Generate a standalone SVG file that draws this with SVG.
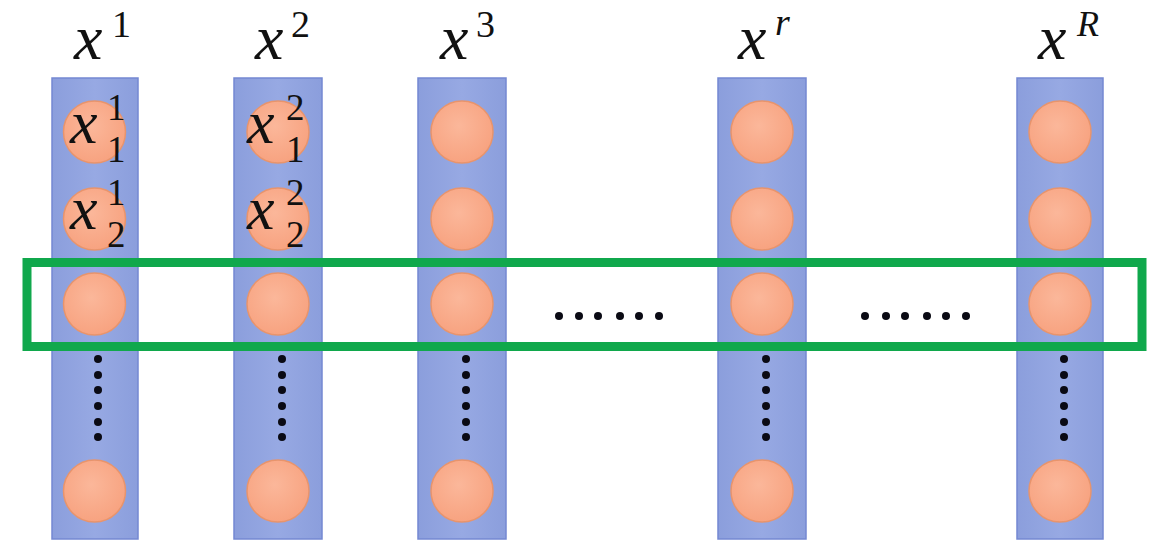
<svg xmlns="http://www.w3.org/2000/svg" width="1161" height="547" viewBox="0 0 1161 547">
<defs>
<linearGradient id="colg" x1="0" y1="0" x2="1" y2="0">
<stop offset="0" stop-color="#8B9EDC"/>
<stop offset="0.5" stop-color="#97A9E3"/>
<stop offset="1" stop-color="#8B9EDC"/>
</linearGradient>
<radialGradient id="circg" cx="0.45" cy="0.4" r="0.65">
<stop offset="0" stop-color="#FBB79A"/>
<stop offset="1" stop-color="#F7A17E"/>
</radialGradient>
<style>
.col{fill:url(#colg);stroke:#7488D2;stroke-width:1.5}
.nd{fill:url(#circg);stroke:#E8946C;stroke-width:1.5}
.dot{fill:#0a0a14}
.box{fill:none;stroke:#10A84C;stroke-width:9}
</style>
</defs>
<rect width="1161" height="547" fill="#ffffff"/>

<g id="col1">
<rect class="col" x="52" y="78" width="86" height="461"/>
<circle class="nd" cx="94.5" cy="132" r="31"/>
<circle class="nd" cx="94.5" cy="219" r="31"/>
<circle class="nd" cx="94.5" cy="304" r="31"/>
<circle class="nd" cx="94.5" cy="491" r="31"/>
<g class="dot"><circle cx="98" cy="359" r="4"/><circle cx="98" cy="375" r="4"/><circle cx="98" cy="390" r="4"/><circle cx="98" cy="406" r="4"/><circle cx="98" cy="422" r="4"/><circle cx="98" cy="437" r="4"/></g>
<text x="74" y="59" font-family="Liberation Serif" font-style="italic" font-size="64" fill="#111">x</text>
<text x="112" y="37" font-family="Liberation Serif" font-size="38" fill="#111">1</text>
<text x="70" y="143" font-family="Liberation Serif" font-style="italic" font-size="62" fill="#111">x</text>
<text x="107" y="120" font-family="Liberation Serif" font-size="37" fill="#111">1</text>
<text x="107" y="162" font-family="Liberation Serif" font-size="37" fill="#111">1</text>
<text x="70" y="229" font-family="Liberation Serif" font-style="italic" font-size="62" fill="#111">x</text>
<text x="107" y="205" font-family="Liberation Serif" font-size="37" fill="#111">1</text>
<text x="107" y="247" font-family="Liberation Serif" font-size="37" fill="#111">2</text>
</g>

<g id="col2">
<rect class="col" x="234" y="78" width="88" height="461"/>
<circle class="nd" cx="278" cy="132" r="31"/>
<circle class="nd" cx="278" cy="219" r="31"/>
<circle class="nd" cx="278" cy="304" r="31"/>
<circle class="nd" cx="278" cy="491" r="31"/>
<g class="dot"><circle cx="282" cy="359" r="4"/><circle cx="282" cy="375" r="4"/><circle cx="282" cy="390" r="4"/><circle cx="282" cy="406" r="4"/><circle cx="282" cy="422" r="4"/><circle cx="282" cy="437" r="4"/></g>
<text x="255" y="59" font-family="Liberation Serif" font-style="italic" font-size="64" fill="#111">x</text>
<text x="291" y="37" font-family="Liberation Serif" font-size="38" fill="#111">2</text>
<text x="247" y="143" font-family="Liberation Serif" font-style="italic" font-size="62" fill="#111">x</text>
<text x="286" y="120" font-family="Liberation Serif" font-size="37" fill="#111">2</text>
<text x="286" y="162" font-family="Liberation Serif" font-size="37" fill="#111">1</text>
<text x="247" y="229" font-family="Liberation Serif" font-style="italic" font-size="62" fill="#111">x</text>
<text x="286" y="205" font-family="Liberation Serif" font-size="37" fill="#111">2</text>
<text x="286" y="247" font-family="Liberation Serif" font-size="37" fill="#111">2</text>
</g>

<g id="col3">
<rect class="col" x="418" y="78" width="88" height="461"/>
<circle class="nd" cx="462" cy="132" r="31"/>
<circle class="nd" cx="462" cy="219" r="31"/>
<circle class="nd" cx="462" cy="304" r="31"/>
<circle class="nd" cx="462" cy="491" r="31"/>
<g class="dot"><circle cx="466" cy="359" r="4"/><circle cx="466" cy="375" r="4"/><circle cx="466" cy="390" r="4"/><circle cx="466" cy="406" r="4"/><circle cx="466" cy="422" r="4"/><circle cx="466" cy="437" r="4"/></g>
<text x="440" y="59" font-family="Liberation Serif" font-style="italic" font-size="64" fill="#111">x</text>
<text x="476" y="37" font-family="Liberation Serif" font-size="38" fill="#111">3</text>
</g>

<g id="colr">
<rect class="col" x="718" y="78" width="88" height="461"/>
<circle class="nd" cx="762" cy="132" r="31"/>
<circle class="nd" cx="762" cy="219" r="31"/>
<circle class="nd" cx="762" cy="304" r="31"/>
<circle class="nd" cx="762" cy="491" r="31"/>
<g class="dot"><circle cx="766" cy="359" r="4"/><circle cx="766" cy="375" r="4"/><circle cx="766" cy="390" r="4"/><circle cx="766" cy="406" r="4"/><circle cx="766" cy="422" r="4"/><circle cx="766" cy="437" r="4"/></g>
<text x="738" y="59" font-family="Liberation Serif" font-style="italic" font-size="64" fill="#111">x</text>
<text x="775" y="35" font-family="Liberation Serif" font-style="italic" font-size="38" fill="#111">r</text>
</g>

<g id="colR">
<rect class="col" x="1017" y="78" width="86" height="461"/>
<circle class="nd" cx="1060" cy="132" r="31"/>
<circle class="nd" cx="1060" cy="219" r="31"/>
<circle class="nd" cx="1060" cy="304" r="31"/>
<circle class="nd" cx="1060" cy="491" r="31"/>
<g class="dot"><circle cx="1064" cy="359" r="4"/><circle cx="1064" cy="375" r="4"/><circle cx="1064" cy="390" r="4"/><circle cx="1064" cy="406" r="4"/><circle cx="1064" cy="422" r="4"/><circle cx="1064" cy="437" r="4"/></g>
<text x="1038" y="59" font-family="Liberation Serif" font-style="italic" font-size="64" fill="#111">x</text>
<text x="1077" y="36" font-family="Liberation Serif" font-style="italic" font-size="36" fill="#111">R</text>
</g>

<g id="hdots" class="dot">
<circle cx="559" cy="316" r="4"/><circle cx="579" cy="316" r="4"/><circle cx="598" cy="316" r="4"/><circle cx="620" cy="316" r="4"/><circle cx="639" cy="316" r="4"/><circle cx="659" cy="316" r="4"/>
<circle cx="865" cy="316" r="4"/><circle cx="886" cy="316" r="4"/><circle cx="905" cy="316" r="4"/><circle cx="927" cy="316" r="4"/><circle cx="946" cy="316" r="4"/><circle cx="966" cy="316" r="4"/>
</g>

<g id="connectors">
<rect id="highlight" class="box" x="27" y="262.5" width="1115" height="84"/>
</g>
</svg>
